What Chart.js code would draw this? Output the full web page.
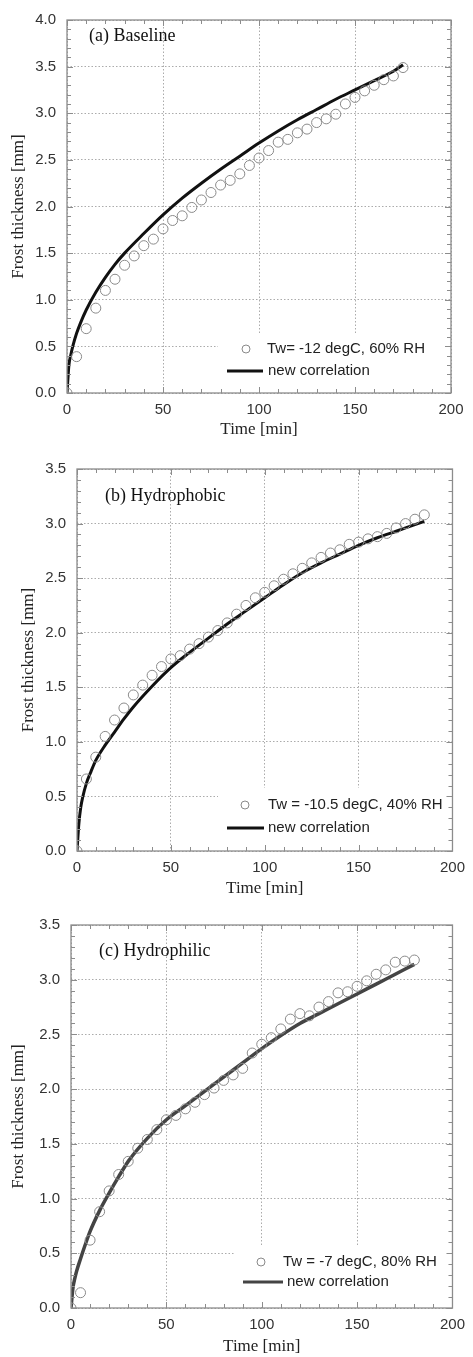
<!DOCTYPE html>
<html>
<head>
<meta charset="utf-8">
<script src="https://cdn.jsdelivr.net/npm/chart.js@4.4.1/dist/chart.umd.min.js"></script>
<style>
  html, body { margin: 0; padding: 0; background: #fff; }
  .panel { position: absolute; left: 0; width: 473px; }
</style>
</head>
<body>
<div class="panel" style="top:0;height:445px"><canvas id="chartA"></canvas></div>
<div class="panel" style="top:445px;height:460px"><canvas id="chartB"></canvas></div>
<div class="panel" style="top:905px;height:452px"><canvas id="chartC"></canvas></div>
<script>
// (a) Baseline - measured points
const timeA = [0, 5, 10, 15, 20, 25, 30, 35, 40, 45, 50, 55, 60, 65, 70, 75, 80, 85, 90, 95, 100, 105, 110, 115, 120, 125, 130, 135, 140, 145, 150, 155, 160, 165, 170, 175];
const thickA = [0, 0.39, 0.69, 0.91, 1.10, 1.22, 1.37, 1.47, 1.58, 1.65, 1.76, 1.85, 1.90, 1.99, 2.07, 2.15, 2.23, 2.28, 2.35, 2.44, 2.52, 2.60, 2.69, 2.72, 2.79, 2.83, 2.90, 2.94, 2.99, 3.10, 3.17, 3.24, 3.30, 3.36, 3.40, 3.49];
// (a) correlation curve
const corrTimeA = [0, 1, 2, 3, 5, 7, 10, 15, 20, 25, 30, 40, 50, 60, 70, 80, 90, 100, 110, 120, 130, 140, 150, 160, 170, 175];
const corrA = [0, 0.30, 0.41, 0.50, 0.64, 0.75, 0.89, 1.08, 1.24, 1.38, 1.50, 1.71, 1.91, 2.09, 2.25, 2.40, 2.54, 2.68, 2.81, 2.93, 3.04, 3.15, 3.25, 3.35, 3.45, 3.52];

// (b) Hydrophobic
const timeB = [0, 5, 10, 15, 20, 25, 30, 35, 40, 45, 50, 55, 60, 65, 70, 75, 80, 85, 90, 95, 100, 105, 110, 115, 120, 125, 130, 135, 140, 145, 150, 155, 160, 165, 170, 175, 180, 185];
const thickB = [0, 0.66, 0.86, 1.05, 1.20, 1.31, 1.43, 1.52, 1.61, 1.69, 1.76, 1.79, 1.85, 1.90, 1.96, 2.02, 2.09, 2.17, 2.25, 2.32, 2.37, 2.43, 2.49, 2.54, 2.59, 2.64, 2.69, 2.73, 2.76, 2.81, 2.83, 2.86, 2.88, 2.91, 2.96, 3.00, 3.04, 3.08];
const corrTimeB = [0, 1, 2, 3, 5, 7.5, 10, 15, 20, 25, 30, 40, 50, 60, 70, 80, 90, 100, 110, 120, 130, 140, 150, 160, 170, 180, 185];
const corrB = [0, 0.25, 0.40, 0.49, 0.62, 0.73, 0.83, 0.97, 1.09, 1.21, 1.32, 1.51, 1.68, 1.82, 1.95, 2.08, 2.20, 2.32, 2.44, 2.55, 2.64, 2.72, 2.80, 2.87, 2.93, 2.99, 3.02];

// (c) Hydrophilic
const timeC = [0, 5, 10, 15, 20, 25, 30, 35, 40, 45, 50, 55, 60, 65, 70, 75, 80, 85, 90, 95, 100, 105, 110, 115, 120, 125, 130, 135, 140, 145, 150, 155, 160, 165, 170, 175, 180];
const thickC = [0, 0.14, 0.62, 0.88, 1.07, 1.22, 1.34, 1.46, 1.54, 1.63, 1.72, 1.76, 1.82, 1.88, 1.95, 2.01, 2.08, 2.13, 2.19, 2.33, 2.41, 2.47, 2.55, 2.64, 2.69, 2.67, 2.75, 2.80, 2.88, 2.89, 2.94, 2.99, 3.05, 3.09, 3.16, 3.17, 3.18];
const corrTimeC = [0, 1, 2, 3, 5, 7.5, 10, 15, 20, 25, 30, 40, 50, 60, 70, 80, 90, 100, 110, 120, 130, 140, 150, 160, 170, 180];
const corrC = [0, 0.18, 0.27, 0.34, 0.45, 0.58, 0.70, 0.89, 1.05, 1.20, 1.34, 1.55, 1.72, 1.85, 1.98, 2.11, 2.24, 2.37, 2.49, 2.60, 2.69, 2.78, 2.87, 2.96, 3.05, 3.14];

const xTicks = [0, 50, 100, 150, 200];
const yTitle = 'Frost thickness [mm]';
const xTitle = 'Time [min]';

const SANS = "'Liberation Sans', Arial, sans-serif";
const SERIF = "'Liberation Serif', 'Times New Roman', serif";

function pairs(xs, ys) {
    return xs.map((t, i) => ({ x: t, y: ys[i] }));
}

// frame, inward minor ticks, legend box and panel label
const panelPlugin = {
    id: 'panelDeco',
    beforeDatasetsDraw(chart) {
        const p = chart.options.plugins.panelDeco;
        const ctx = chart.ctx;
        ctx.save();
        ctx.fillStyle = '#fff';
        ctx.fillRect(p.box[0], p.box[1], p.box[2] - p.box[0], p.box[3] - p.box[1]);
        ctx.restore();
    },
    afterDatasetsDraw(chart) {
        const p = chart.options.plugins.panelDeco;
        const ctx = chart.ctx;
        ctx.save();
        // panel label
        ctx.fillStyle = '#111';
        ctx.font = '18px ' + SERIF;
        ctx.textBaseline = 'middle';
        ctx.fillText(p.label, p.labelPos[0], p.labelPos[1]);
        // legend
        ctx.font = '15px ' + SANS;
        ctx.fillStyle = '#222';
        ctx.strokeStyle = '#8a8a8a';
        ctx.lineWidth = 1;
        ctx.beginPath();
        ctx.arc(p.circle[0], p.circle[1], 4, 0, Math.PI * 2);
        ctx.stroke();
        ctx.fillText(p.series, p.circle[2], p.circle[1]);
        ctx.strokeStyle = p.lineColor;
        ctx.lineWidth = 3;
        ctx.beginPath();
        ctx.moveTo(p.line[0], p.line[2]);
        ctx.lineTo(p.line[1], p.line[2]);
        ctx.stroke();
        ctx.fillText('new correlation', p.line[3], p.line[2]);
        ctx.restore();
    },
    afterDraw(chart) {
        const { ctx, chartArea: a, scales: { x, y } } = chart;
        ctx.save();
        ctx.strokeStyle = '#8c8c8c';
        ctx.lineWidth = 1;
        ctx.beginPath();
        for (let v = 0; v <= x.max; v += 10) {
            const px = Math.round(x.getPixelForValue(v)) + 0.5;
            const len = v % 50 === 0 ? 6 : 4;
            ctx.moveTo(px, a.bottom); ctx.lineTo(px, a.bottom - len);
            ctx.moveTo(px, a.top); ctx.lineTo(px, a.top + len);
        }
        for (let i = 0; i <= Math.round(y.max * 10); i++) {
            const py = Math.round(y.getPixelForValue(i / 10)) + 0.5;
            const len = i % 5 === 0 ? 6 : 4;
            ctx.moveTo(a.left, py); ctx.lineTo(a.left + len, py);
            ctx.moveTo(a.right, py); ctx.lineTo(a.right - len, py);
        }
        ctx.stroke();
        ctx.lineWidth = 1.3;
        ctx.strokeRect(a.left, a.top, a.right - a.left, a.bottom - a.top);
        ctx.restore();
    }
};

function makePanel(id, cfg) {
    new Chart(document.getElementById(id), {
        type: 'scatter',
        data: {
            datasets: [
                {
                    label: cfg.series,
                    data: pairs(cfg.t, cfg.h),
                    pointRadius: 5,
                    pointBorderColor: '#8a8a8a',
                    pointBackgroundColor: 'rgba(255,255,255,0)',
                    pointBorderWidth: 1,
                    showLine: false,
                    order: 1
                },
                {
                    label: 'new correlation',
                    type: 'line',
                    data: pairs(cfg.ct, cfg.ch),
                    borderColor: cfg.lineColor,
                    borderWidth: cfg.lineWidth,
                    pointRadius: 0,
                    cubicInterpolationMode: 'monotone',
                    fill: false,
                    order: 2
                }
            ]
        },
        options: {
            responsive: true,
            maintainAspectRatio: false,
            animation: false,
            layout: { padding: { top: cfg.padTop, right: cfg.padRight, left: 0, bottom: 0 } },
            scales: {
                x: {
                    type: 'linear',
                    min: 0, max: 200,
                    afterBuildTicks: s => { s.ticks = xTicks.map(v => ({ value: v })); },
                    afterFit: s => { s.height = cfg.xh; },
                    grid: { color: '#ababab', lineWidth: 1, drawTicks: false },
                    border: { display: false, dash: [1.5, 2] },
                    ticks: { color: '#333', padding: 8, font: { family: SANS, size: 15 } },
                    title: { display: true, text: xTitle, color: '#222', font: { family: SERIF, size: 17 }, padding: { top: 0, bottom: cfg.xTitlePad } }
                },
                y: {
                    min: 0, max: cfg.yMax,
                    ticks: { stepSize: 0.5, color: '#333', padding: 11, font: { family: SANS, size: 15 }, callback: v => v.toFixed(1) },
                    afterFit: s => { s.width = cfg.yw; },
                    grid: { color: '#ababab', lineWidth: 1, drawTicks: false },
                    border: { display: false, dash: [1.5, 2] },
                    title: { display: true, text: yTitle, color: '#222', font: { family: SERIF, size: 17 }, padding: { top: cfg.yTitlePad, bottom: 0 } }
                }
            },
            plugins: {
                legend: { display: false },
                tooltip: { enabled: false },
                panelDeco: cfg.deco
            }
        },
        plugins: [panelPlugin]
    });
}

makePanel('chartA', {
    t: timeA, h: thickA, ct: corrTimeA, ch: corrA, series: 'Tw= -12 degC, 60% RH',
    lineColor: '#111', lineWidth: 3, yMax: 4,
    padTop: 12, padRight: 22, yw: 67, xh: 52, xTitlePad: 5, yTitlePad: 8,
    deco: {
        label: '(a) Baseline', labelPos: [89, 36], series: 'Tw= -12 degC, 60% RH', lineColor: '#111',
        box: [218, 335, 450, 392], circle: [246, 349, 267], line: [227, 263, 371, 268]
    }
});

makePanel('chartB', {
    t: timeB, h: thickB, ct: corrTimeB, ch: corrB, series: 'Tw = -10.5 degC, 40% RH',
    lineColor: '#111', lineWidth: 3, yMax: 3.5,
    padTop: 24, padRight: 14, yw: 77, xh: 54, xTitlePad: 6, yTitlePad: 18,
    deco: {
        label: '(b) Hydrophobic', labelPos: [105, 51], series: 'Tw = -10.5 degC, 40% RH', lineColor: '#111',
        box: [218, 343, 458, 405], circle: [245, 360, 268], line: [227, 264, 383, 268]
    }
});

makePanel('chartC', {
    t: timeC, h: thickC, ct: corrTimeC, ch: corrC, series: 'Tw = -7 degC, 80% RH',
    lineColor: '#444', lineWidth: 3.5, yMax: 3.5,
    padTop: 18, padRight: 16, yw: 71, xh: 49, xTitlePad: 0, yTitlePad: 8,
    deco: {
        label: '(c) Hydrophilic', labelPos: [99, 46], series: 'Tw = -7 degC, 80% RH', lineColor: '#444',
        box: [235, 340, 456, 402], circle: [261, 357, 283], line: [243, 283, 377, 287]
    }
});
</script>
</body>
</html>
